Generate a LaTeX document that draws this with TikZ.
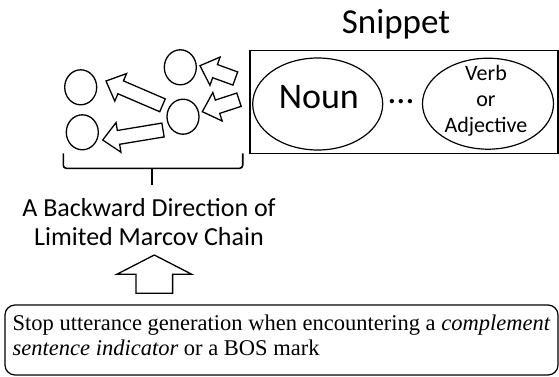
\documentclass[tikz,border=0pt]{standalone}
\usepackage{fontspec}
\setmainfont{Liberation Serif}
\newfontfamily\calib{Carlito}
\usetikzlibrary{calc,shapes.geometric}

% block arrow from #1 (tail) to #2 (tip): shaft half width #3, head half width #4, head length #5
\newcommand{\blockarr}[5]{%
  \coordinate (#1-base) at ($(#2)!#5!(#1)$);
  \draw[blockarrow] ($(#1)!#3!90:(#2)$) -- ($(#1-base)!#3!90:(#2)$)
    -- ($(#1-base)!#4!90:(#2)$) -- (#2) -- ($(#1-base)!#4!-90:(#2)$)
    -- ($(#1-base)!#3!-90:(#2)$) -- ($(#1)!#3!-90:(#2)$) -- cycle;
}

\begin{document}
\begin{tikzpicture}[x=1pt,y=-1pt,
  state/.style={draw,ellipse,line width=1.3pt,minimum width=32pt,minimum height=35pt,inner sep=0pt},
  word/.style={draw,ellipse,line width=1.2pt,inner sep=0pt},
  blockarrow/.style={draw,fill=white,line width=1.3pt,line join=miter},
  lbl/.style={inner sep=0pt}]
\useasboundingbox (0,0) rectangle (559,377);

% states of the chain
\node[state] (s1) at (80.7,87.3) {};
\node[state] (s2) at (82.3,132.3) {};
\node[state] (s3) at (180.3,67.3) {};
\node[state] (s4) at (183,116.7) {};

\coordinate (a1) at (162.5,105.3); \coordinate (b1) at (106,81);
\coordinate (a2) at (163,130);     \coordinate (b2) at (102.7,140);
\coordinate (a3) at (235.3,78.5);  \coordinate (b3) at (200,65.7);
\coordinate (a4) at (239,99.7);    \coordinate (b4) at (202.3,111.7);
\foreach \i in {1,...,4}
  {\blockarr{a\i}{b\i}{7pt}{15pt}{16pt}}

% brace under the chain
\coordinate (bl) at (63.3,153.3);
\coordinate (br) at (242.7,153.3);
\coordinate (bm) at (151.7,168.3);
\draw[line width=1.6pt,rounded corners=3pt] (bl) -- (63.3,168.3) -- (242.7,168.3) -- (br);
\draw[line width=1.6pt] (bm) -- +(0,16.7);

% snippet
\node[draw,line width=1.3pt,minimum width=308pt,minimum height=103pt] (snip) at (404,101.7) {};
\node[lbl,font=\calib\fontsize{35}{40}\selectfont,anchor=base] (title) at (396,33.3) {Snippet};
\node[word,minimum width=130pt,minimum height=92pt] (noun) at (317.7,104) {};
\node[lbl,font=\calib\fontsize{36}{40}\selectfont,anchor=base] (nountxt) at (318.8,108.3) {Noun};
\node[lbl,font=\calib\fontsize{36}{40}\selectfont,anchor=base] (dots) at (401,104) {\dots};
\node[word,minimum width=131pt,minimum height=91pt] (verb) at (488,103.7) {};
\node[lbl,font=\calib\fontsize{22}{26.3}\selectfont,align=center,anchor=base] (verbtxt) at (486,132.7) {Verb\\or\\Adjective};

% chain label
\node[lbl,font=\calib\fontsize{26}{29}\selectfont,align=center,anchor=base] (chain) at (149,245.5)
  {A Backward Direction of\\Limited Marcov Chain};

% stop condition
\node[draw,line width=1.2pt,rounded corners=10pt,minimum width=553pt,minimum height=70pt] (stop) at (281.5,340) {};
\node[lbl,align=left,anchor=base west,font=\fontsize{22.5}{24.3}\selectfont] (stoptxt) at (12.5,355)
  {Stop utterance generation when encountering a \textit{complement}\\
   \textit{sentence indicator} or a BOS mark};

\coordinate (upt) at (154.3,293.3);
\coordinate (uph) at (154.3,255);
\blockarr{upt}{uph}{18.3pt}{37.5pt}{19.3pt}

\end{tikzpicture}
\end{document}
